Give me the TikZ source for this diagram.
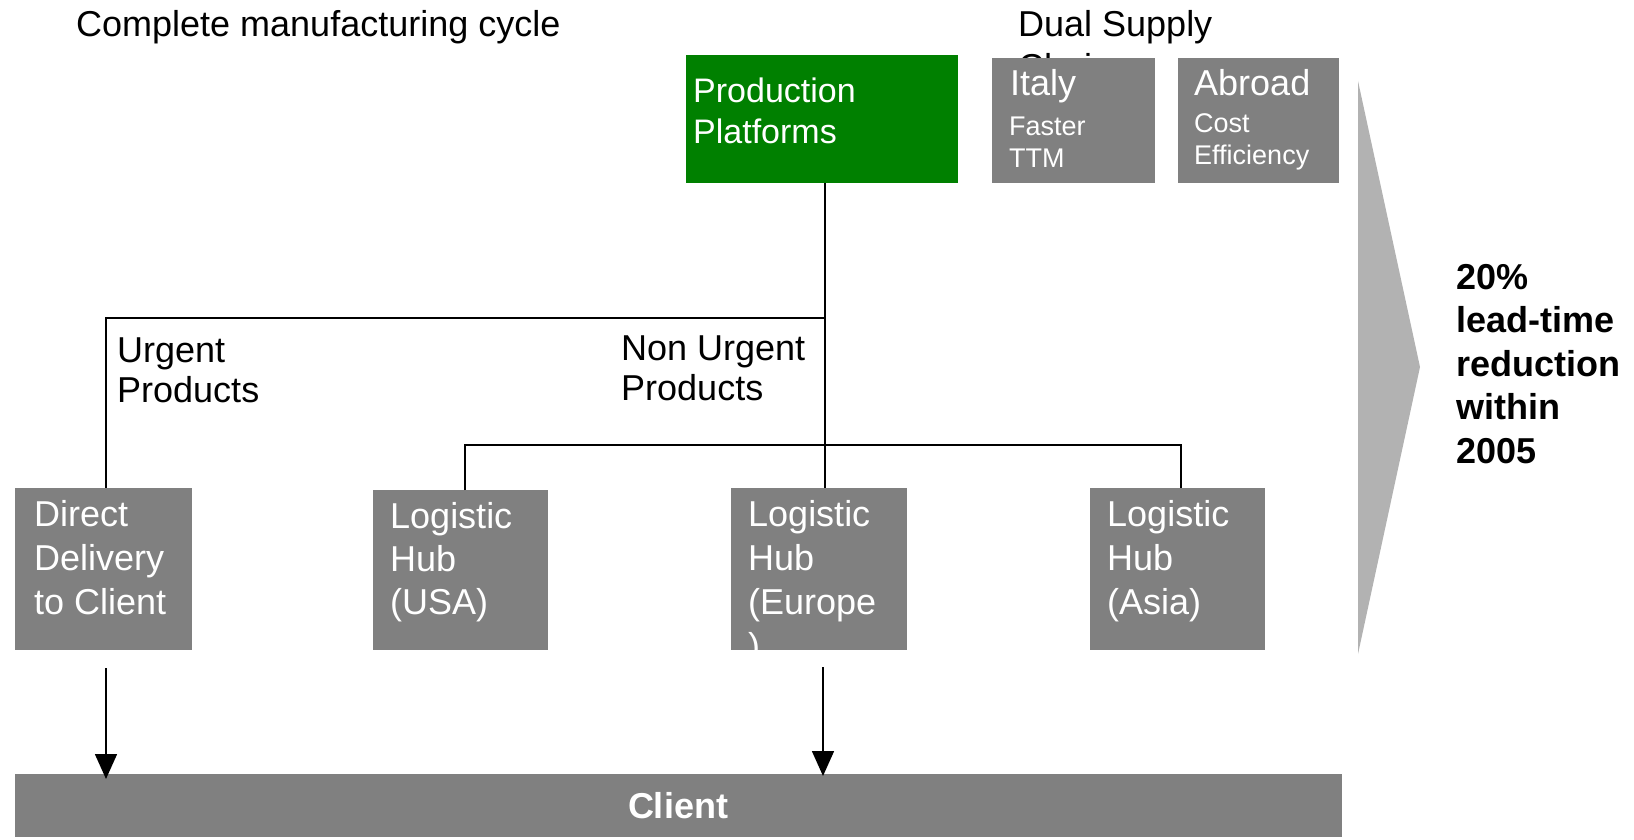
\documentclass[tikz,border=0pt]{standalone}
\usepackage{fontspec}
\setmainfont{Liberation Sans}
\usetikzlibrary{arrows.meta}
\definecolor{boxgray}{RGB}{128,128,128}
\definecolor{chevgray}{RGB}{178,178,178}
\definecolor{prodgreen}{RGB}{0,128,0}
\tikzset{
  gbox/.style={fill=boxgray, draw=none, inner sep=0pt, anchor=north west},
  greenbox/.style={gbox, fill=prodgreen},
  lbl/.style={inner sep=0pt, anchor=north west, align=left, font=\fontsize{36}{43}\selectfont},
  wlbl/.style={lbl, text=white},
  slbl/.style={wlbl, font=\fontsize{27}{32}\selectfont},
  conn/.style={line width=1.6pt, black},
  arr/.style={conn, -{Triangle[length=25pt,width=22pt]}},
}
\begin{document}
\begin{tikzpicture}[x=1pt,y=-1pt]
\useasboundingbox (0,0) rectangle (1634,840);

% chevron
\fill[chevgray] (1358,81) -- (1420,367) -- (1358,654) -- cycle;

% titles
\node[lbl] (title) at (76,10) {Complete manufacturing cycle};
\node[lbl] (dual) at (1018,10) {Dual Supply\\Chain};

% top boxes
\node[greenbox, minimum width=272pt, minimum height=128pt] (prod) at (686,55) {};
\node[wlbl, font=\fontsize{34}{41}\selectfont] (prodt) at (693,78) {Production\\Platforms};

\node[gbox, minimum width=163pt, minimum height=125pt] (italy) at (992,58) {};
\node[wlbl] (italyt) at (1010,69) {Italy};
\node[slbl] (italys) at (1009,117) {Faster\\TTM};

\node[gbox, minimum width=161pt, minimum height=125pt] (abroad) at (1178,58) {};
\node[wlbl] (abroadt) at (1194,69) {Abroad};
\node[slbl] (abroads) at (1194,113) {Cost\\Efficiency};

% branch labels
\node[lbl, font=\fontsize{36}{40}\selectfont] (urg) at (117,338) {Urgent\\Products};
\node[lbl, font=\fontsize{36}{40}\selectfont] (nurg) at (621,336) {Non Urgent\\Products};

% lower boxes
\node[gbox, minimum width=177pt, minimum height=162pt] (direct) at (15,488) {};
\node[wlbl, font=\fontsize{36}{44}\selectfont] (directt) at (34,500) {Direct\\Delivery\\to Client};

\node[gbox, minimum width=175pt, minimum height=160pt] (usa) at (373,490) {};
\node[wlbl] (usat) at (390,502) {Logistic\\Hub\\(USA)};

\node[gbox, minimum width=176pt, minimum height=162pt] (eur) at (731,488) {};
\node[wlbl, font=\fontsize{36}{44}\selectfont] (eurt) at (748,500) {Logistic\\Hub\\(Europe\\)};

\node[gbox, minimum width=175pt, minimum height=162pt] (asia) at (1090,488) {};
\node[wlbl, font=\fontsize{36}{44}\selectfont] (asiat) at (1107,500) {Logistic\\Hub\\(Asia)};

% client bar
\node[gbox, minimum width=1327pt, minimum height=63pt] (client) at (15,774) {};
\node[inner sep=0pt, text=white, font=\fontsize{36}{43}\selectfont\bfseries] (clientt) at (678,806) {Client};

% result text
\node[lbl, font=\fontsize{36}{43.5}\selectfont\bfseries] (result) at (1456,264) {20\%\\lead-time\\reduction\\within\\2005};

% connectors
\coordinate (j1) at (825,318);
\coordinate (u) at (106,318);
\coordinate (h1) at (465,445);
\coordinate (h2) at (1181,445);
\draw[conn] (prod.south -| j1) -- (eur.north -| j1);
\draw[conn] (j1) -- (u) -- (u |- direct.north);
\draw[conn] (h1 |- usa.north) -- (h1) -- (h2) -- (h2 |- asia.north);

\coordinate (a1s) at (106,668);
\coordinate (a1e) at (106,779);
\coordinate (a2s) at (823,667);
\coordinate (a2e) at (823,776);
\draw[arr] (a1s) -- (a1e);
\draw[arr] (a2s) -- (a2e);
\end{tikzpicture}
\end{document}
